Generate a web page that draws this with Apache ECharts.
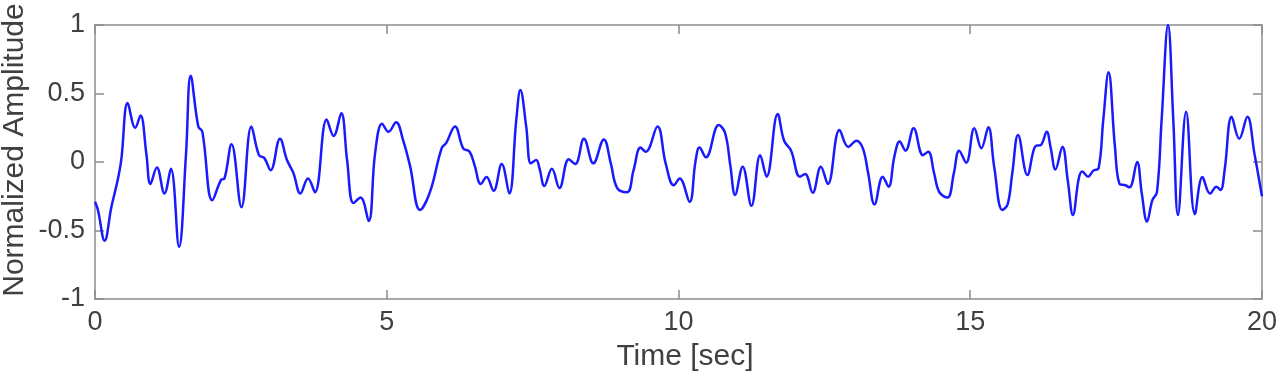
<!DOCTYPE html>
<html>
<head>
<meta charset="utf-8">
<title>Normalized Amplitude</title>
<script src="https://cdn.jsdelivr.net/npm/echarts@6/dist/echarts.min.js"></script>
<style>
  html, body { margin: 0; padding: 0; background: #fff; }
  #signal { width: 1280px; height: 383px; }
</style>
</head>
<body>
<div id="signal"></div>
<script>
// time axis (sec) at peaks / troughs / bends
var times = [
  0, 0.05, 0.165, 0.28, 0.39, 0.45, 0.56, 0.69, 0.78, 0.88, 0.95, 1.06, 1.19, 1.30, 1.44, 1.56, 1.64, 1.77, 1.84, 2.01,
  2.16, 2.22, 2.34, 2.51, 2.68, 2.81, 2.90, 3.01, 3.17, 3.29, 3.40, 3.52, 3.65, 3.77, 3.97, 4.09, 4.22, 4.32, 4.43, 4.55,
  4.69, 4.80, 4.92, 5.03, 5.16, 5.28, 5.40, 5.57, 5.74, 5.94, 6.02, 6.17, 6.31, 6.42, 6.51, 6.61, 6.71, 6.83, 6.97, 7.10,
  7.22, 7.29, 7.39, 7.47, 7.56, 7.62, 7.70, 7.83, 7.96, 8.12, 8.23, 8.38, 8.54, 8.72, 8.84, 8.95, 9.12, 9.23, 9.35, 9.44,
  9.64, 9.78, 9.92, 10.02, 10.19, 10.29, 10.36, 10.47, 10.69, 10.80, 10.89, 10.97, 11.10, 11.25, 11.40, 11.51, 11.70, 11.81, 11.93, 12.08,
  12.17, 12.30, 12.44, 12.56, 12.76, 12.91, 13.05, 13.16, 13.25, 13.36, 13.50, 13.60, 13.70, 13.79, 13.89, 14.03, 14.19, 14.28, 14.38, 14.47,
  14.61, 14.72, 14.81, 14.93, 15.07, 15.19, 15.31, 15.41, 15.55, 15.64, 15.72, 15.82, 15.98, 16.12, 16.21, 16.31, 16.38, 16.46, 16.58, 16.67,
  16.76, 16.86, 16.92, 17.02, 17.11, 17.20, 17.28, 17.37, 17.48, 17.56, 17.66, 17.73, 17.86, 17.94, 18.03, 18.12, 18.20, 18.28, 18.39, 18.48,
  18.56, 18.70, 18.85, 18.98, 19.11, 19.22, 19.29, 19.36, 19.48, 19.61, 19.75, 19.87, 20.0
];
// normalized amplitude at each time above
var amplitudes = [
  -0.29, -0.35, -0.574, -0.33, -0.13, 0.015, 0.43, 0.25, 0.34, 0.06, -0.16, -0.04, -0.23, -0.05, -0.62, 0.06, 0.63, 0.26, 0.22, -0.28,
  -0.13, -0.12, 0.13, -0.33, 0.26, 0.05, 0.03, -0.06, 0.17, 0.015, -0.08, -0.23, -0.12, -0.22, 0.31, 0.19, 0.355, 0.015, -0.30, -0.26,
  -0.43, 0.063, 0.28, 0.22, 0.29, 0.16, -0.03, -0.35, -0.22, 0.10, 0.14, 0.26, 0.10, 0.075, -0.03, -0.16, -0.11, -0.21, -0.015, -0.23,
  0.307, 0.525, 0.26, -0.01, 0.015, -0.05, -0.175, -0.05, -0.19, 0.02, -0.015, 0.17, -0.01, 0.165, -0.01, -0.19, -0.22, -0.06, 0.105, 0.075,
  0.26, -0.01, -0.17, -0.12, -0.29, 0.0, 0.105, 0.034, 0.27, 0.21, -0.03, -0.24, -0.034, -0.32, 0.05, -0.107, 0.35, 0.155, 0.083, -0.107,
  -0.088, -0.224, -0.034, -0.16, 0.234, 0.11, 0.156, 0.10, -0.08, -0.31, -0.107, -0.18, 0.04, 0.15, 0.083, 0.246, 0.05, 0.075, -0.08, -0.22,
  -0.26, -0.08, 0.083, -0.005, 0.246, 0.10, 0.253, -0.034, -0.35, -0.31, -0.083, 0.197, -0.095, 0.117, 0.124, 0.22, 0.10, -0.054, 0.112, -0.13,
  -0.387, -0.12, -0.07, -0.107, -0.063, -0.046, 0.307, 0.655, 0.11, -0.16, -0.17, -0.185, 0.0, -0.23, -0.435, -0.28, -0.22, 0.307, 1.0, 0.307,
  -0.387, 0.367, -0.38, -0.11, -0.23, -0.18, -0.205, -0.058, 0.33, 0.17, 0.33, 0.063, -0.25
];
// axis limits / tick steps
var xTicks = [0, 5, 10, 15, 20];
var yTicks = [-1, -0.5, 0, 0.5, 1];

var chartObj = echarts.init(document.getElementById('signal'), null, { renderer: 'canvas' });

var points = [];
for (var i = 0; i < times.length; i++) {
  points.push([times[i], amplitudes[i]]);
}

var font = 'Liberation Sans, Arial, sans-serif';
var boxColor = '#8c8c8c';
var textColor = '#404040';

// common look of the four sides of the box (ticks point inwards)
function side(pos, ticks, showLabel) {
  return {
    type: 'value',
    position: pos,
    min: ticks[0],
    max: ticks[ticks.length - 1],
    interval: ticks[1] - ticks[0],
    axisLine: { show: true, onZero: false, lineStyle: { color: boxColor, width: 1.5 } },
    axisTick: { show: true, inside: true, length: 9, lineStyle: { color: boxColor, width: 1.5 } },
    splitLine: { show: false },
    axisLabel: {
      show: showLabel,
      color: textColor,
      fontSize: 27,
      fontFamily: font,
      margin: 10
    }
  };
}

var option = {
  animation: false,
  backgroundColor: '#ffffff',
  grid: { left: 95, right: 13, top: 25, bottom: 84, containLabel: false },
  xAxis: [side('bottom', xTicks, true), side('top', xTicks, false)],
  yAxis: [side('left', yTicks, true), side('right', yTicks, false)],
  // axis titles placed by hand, like the MATLAB figure
  graphic: [
    {
      type: 'text', x: 15, y: 150, rotation: Math.PI / 2,
      style: { text: 'Normalized Amplitude', font: '30px ' + font, fill: textColor, align: 'center', verticalAlign: 'middle' }
    },
    {
      type: 'text', x: 685, y: 357,
      style: { text: 'Time [sec]', font: '30px ' + font, fill: textColor, align: 'center', verticalAlign: 'middle' }
    }
  ],
  series: [
    {
      type: 'line',
      xAxisIndex: 0,
      yAxisIndex: 0,
      data: points,
      smooth: 0.4,
      showSymbol: false,
      lineStyle: { color: '#1a1aff', width: 2.5 }
    }
  ]
};
chartObj.setOption(option);
</script>
</body>
</html>
